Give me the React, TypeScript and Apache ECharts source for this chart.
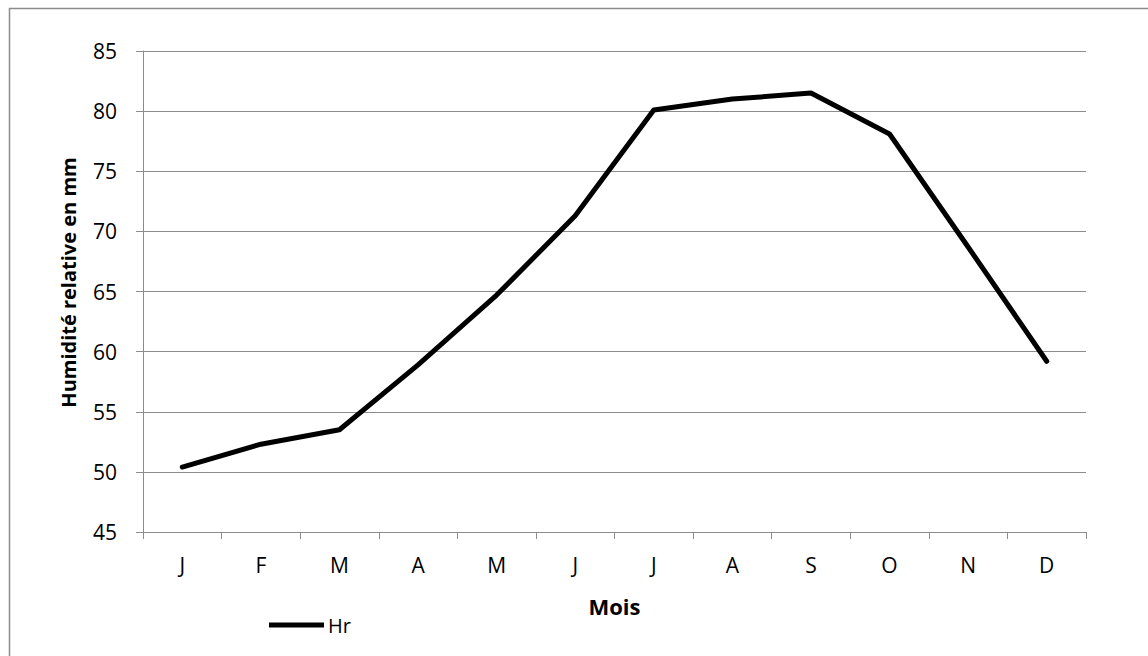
import React, { useEffect, useRef } from "react";
import * as echarts from "echarts";

// Monthly relative humidity
const months = ["J", "F", "M", "A", "M", "J", "J", "A", "S", "O", "N", "D"];
const humidity = [50.4, 52.3, 53.5, 58.9, 64.7, 71.3, 80.1, 81.0, 81.5, 78.1, 68.7, 59.2];
const seriesName = "Hr";
const yAxisTitle = "Humidité relative en mm";
const xAxisTitle = "Mois";

const FONT = "'Open Sans', 'Noto Sans', sans-serif";
const GRAY = "#8c8c8c";

export default function App() {
  const ref = useRef<HTMLDivElement>(null);

  useEffect(() => {
    document.body.style.margin = "0";
    if (!ref.current) return;
    const chart = echarts.init(ref.current, undefined, { renderer: "svg" });
    chart.setOption({
      animation: false,
      backgroundColor: "#ffffff",
      textStyle: { fontFamily: FONT },
      graphic: [
        {
          type: "rect",
          shape: { x: 9.5, y: 8.5, width: 1200, height: 700 },
          style: { fill: "none", stroke: GRAY, lineWidth: 1.5 },
          silent: true,
        },
      ],
      grid: { left: 143, top: 51, right: 62, bottom: 124 },
      legend: {
        left: 269,
        top: 615,
        padding: 0,
        itemWidth: 55,
        itemHeight: 14,
        itemGap: 4,
        icon: "path://M0,0 L55,0 L55,5 L0,5 Z",
        textStyle: { fontFamily: FONT, fontSize: 20, color: "#000", padding: [0, 0, 0, -1] },
        data: [seriesName],
      },
      xAxis: {
        type: "category",
        data: months,
        boundaryGap: true,
        name: xAxisTitle,
        nameLocation: "middle",
        nameGap: 63,
        nameTextStyle: { fontFamily: FONT, fontSize: 22, fontWeight: "bold", color: "#000" },
        axisLine: { show: true, lineStyle: { color: GRAY, width: 1 } },
        axisTick: { show: true, interval: 0, length: 7, lineStyle: { color: GRAY } },
        axisLabel: { interval: 0, margin: 22, fontFamily: FONT, fontSize: 21, color: "#000" },
        splitLine: { show: false },
      },
      yAxis: {
        type: "value",
        min: 45,
        max: 85,
        interval: 5,
        name: yAxisTitle,
        nameLocation: "middle",
        nameGap: 65,
        nameTextStyle: {
          fontFamily: FONT,
          fontSize: 20,
          fontWeight: "bold",
          color: "#000",
          padding: [0, 0, 0, 18],
        },
        axisLine: { show: true, lineStyle: { color: GRAY, width: 1 } },
        axisTick: { show: true, length: 7, lineStyle: { color: GRAY } },
        axisLabel: { margin: 26, fontFamily: FONT, fontSize: 21, color: "#000" },
        splitLine: { show: true, lineStyle: { color: GRAY, width: 1 } },
      },
      series: [
        {
          name: seriesName,
          type: "line",
          data: humidity,
          symbol: "none",
          lineStyle: { color: "#000", width: 5, cap: "round", join: "round" },
          itemStyle: { color: "#000" },
        },
      ],
    });
    return () => chart.dispose();
  }, []);

  return <div ref={ref} style={{ width: 1148, height: 656 }} />;
}
